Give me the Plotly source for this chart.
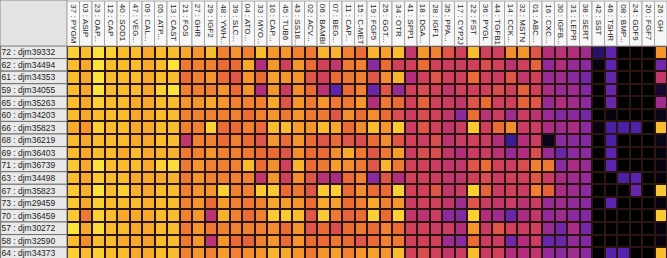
import plotly.graph_objects as go

genes = ["37 : PYGM", "03 : ASIP", "23 : OAP...", "12 : CAP", "40 : SOD1", "47 : VEG...",
         "09 : CAL...", "05 : ATP...", "13 : CAST", "21 : FOS", "27 : GHR", "29 : IGF2",
         "48 : YWH...", "39 : SLC...", "04 : ATO...", "33 : MYO...", "10 : CAP...", "45 : TUB6",
         "43 : SS18...", "02 : ACV...", "06 : BAMBI", "07 : BEG...", "11 : CAP...", "15 : C-MET",
         "19 : FGF5", "25 : GGT...", "34 : OTR", "41 : SPP1", "18 : DGA...", "28 : IGF1",
         "35 : PPA...", "17 : CYP2J", "22 : FST", "36 : PYGL", "44 : TGFB1", "14 : CCK...",
         "32 : MSTN", "01 : ABC...", "16 : CXC...", "30 : IGFB...", "31 : LEPR", "38 : SERT",
         "42 : SST", "46 : TSHR", "08 : BMP...", "24 : GDF9", "20 : FGF7", "26 : GH"]

samples = ["72 : djm39332", "62 : djm34494", "61 : djm34353", "59 : djm34055", "65 : djm35263",
           "60 : djm34203", "66 : djm35823", "68 : djm36219", "69 : djm36403", "71 : djm36739",
           "63 : djm34498", "67 : djm35823", "73 : djm29459", "70 : djm36459", "57 : djm30272",
           "58 : djm32590", "64 : djm34373"]

r72 = [9.5, 9, 10, 9.5, 9, 9, 8.5, 9, 9, 8.5, 8, 9, 7.5, 8, 7.5, 9,
       8, 8, 7.5, 7.3, 8.8, 8.8, 7.5, 7, 8.8, 8.3, 9, 5.5, 8, 7.5, 6.5, 6,
       9, 6, 6, 7.8, 8, 6.5, 5, 5.2, 5, 4.5, 1.5, 3, 0, 0, 0, 8]
r62 = [9, 8.5, 10, 9, 9, 9, 8.5, 9, 10, 7.3, 7.5, 7.5, 7, 7, 8.5, 5,
       8, 6, 8, 7, 6, 5.5, 7.3, 7.5, 4, 7, 6, 6, 7, 6, 5.8, 5.8,
       6, 6.3, 6, 5.3, 6, 6.8, 4.2, 5, 4.3, 4, 0.3, 3, 0, 0, 0, 3.5]
r61 = [9, 8.5, 10, 9, 9, 9, 8.5, 9, 9, 7, 7.5, 8, 7, 6.5, 8, 7,
       8.3, 8, 8, 6.5, 6, 7, 7.3, 7.5, 6.5, 7.8, 8.8, 5, 6, 6.5, 6, 6,
       7, 6, 5.8, 6.5, 5.5, 6, 4.3, 4.5, 4, 3.5, 0, 3.2, 0, 0, 0, 5.5]
r59 = [9, 8.5, 10, 9, 9, 9, 8.5, 9.5, 10, 7.5, 7.5, 7.5, 8, 7, 8, 5,
       8, 5.8, 7.8, 7, 5.2, 3, 7, 7.5, 3.3, 6.5, 4.3, 6, 6.3, 6, 5.5, 6,
       6, 6, 6.3, 6, 6.8, 6, 4.8, 4.3, 4.5, 3.8, 0, 3.3, 0, 0, 0, 1]
r65 = [9, 8.5, 9.5, 9, 9, 8.5, 8.5, 9, 9, 8, 8, 8.5, 8, 7.5, 7.5, 7.5,
       8.5, 6.5, 8, 7.3, 8, 7.3, 7.3, 8, 5, 7.3, 7, 6, 6.8, 6, 5.8, 5.5,
       6.5, 7, 6, 6, 6.8, 6.5, 4.3, 5, 4.5, 4, 0, 3.3, 0, 0, 0, 4.5]
r60 = [9, 8.5, 9, 9, 9, 8.5, 8.5, 9, 9, 7.5, 7.5, 7.5, 7.5, 7.5, 7, 7.5,
       8, 7.3, 8, 7.3, 7.3, 6.5, 7.8, 7, 7.8, 7, 6.3, 5.8, 6.3, 6, 5.5, 4,
       7, 5.2, 5.8, 4.5, 5.8, 5.3, 4.3, 3.8, 4, 3.5, 0, 0.3, 0, 0, 0, 0.5]
r66 = [8.5, 8, 9.5, 9, 9, 8.5, 8.5, 9, 9, 7.5, 7.5, 9.5, 7, 7, 7.5, 7,
       9, 9, 8.2, 8, 9, 8.5, 7, 7.8, 9, 8, 9.3, 5.8, 6.5, 6, 5.5, 5.8,
       9.3, 6, 7, 7.8, 5.8, 5.8, 4.8, 4.5, 4.8, 4, 0.3, 2.5, 2.5, 2.7, 0, 9]
r68 = [9, 8.5, 9, 9, 9, 8.5, 8.5, 9, 9, 5.5, 7.5, 7.5, 7, 7.5, 7, 6.5,
       8, 7, 8, 7, 6.5, 7, 6.5, 6.3, 7, 7.8, 6.5, 6, 5.8, 6.3, 5.3, 5.8,
       6, 5.8, 5, 2, 5, 5.8, 0.5, 4, 4, 3.8, 0, 2.5, 0, 0, 0, 0.5]
r69 = [9, 8.5, 9, 9, 8.5, 9, 8.5, 8.7, 8.7, 7.3, 7.5, 8, 7.5, 7.5, 7.3, 7,
       7, 6.5, 7.8, 7, 7, 7.8, 8.5, 7.3, 6.5, 7.3, 8.2, 5.8, 6.3, 6.3, 5.5, 5,
       5.8, 5.8, 5.2, 4.3, 5, 6.3, 4.3, 3.3, 4, 4, 0, 3, 0, 0, 0, 0.3]
r71 = [9.3, 8.5, 10, 9, 9, 9, 8.5, 9.5, 9.8, 7.3, 8, 7.5, 7.5, 7.5, 9, 7,
       7.8, 6, 8.8, 7, 7.3, 8.2, 7.8, 7.3, 6.5, 8.8, 7.3, 6, 6, 5.8, 5.5, 5.5,
       6.5, 7, 6, 5.8, 6.3, 7.5, 7.3, 4, 4.8, 4.3, 0, 3, 0, 0, 0, 0.3]
r63 = [9, 8.5, 9.3, 9, 9, 8.5, 8.5, 8.5, 8.7, 7.3, 8, 7.5, 7.5, 7.5, 7.5, 5.5,
       8, 6, 7.8, 6.5, 5.2, 4.8, 7, 7.5, 4, 6.5, 5, 6, 6, 5.8, 5.5, 5.5,
       6, 6.3, 5.8, 6, 6, 6.5, 5.8, 4.8, 4.5, 4.2, 0, 0, 2.5, 3, 0, 0.3]
r67 = [9.3, 8.7, 10, 9, 9.5, 8.7, 8.5, 9, 9, 7.5, 8, 8, 9.5, 7.5, 7.5, 9.3,
       9.3, 7, 7.3, 6.5, 9.3, 9.5, 7, 7.8, 7, 7, 9.5, 6, 6, 6.5, 5.5, 5.8,
       9.5, 6.8, 5.8, 6, 5.8, 7.5, 6.8, 4.8, 4.5, 4, 0, 0, 0, 3.3, 0, 9.3]
r73 = [9.3, 8.5, 9.5, 9, 9, 9, 8.7, 9, 9, 7.5, 8, 7, 8.2, 7.5, 7.3, 7.5,
       8.5, 8.2, 8, 7, 8.5, 8.3, 7, 7.5, 8.5, 7.5, 8, 5.8, 6, 6, 5.5, 4.5,
       6.5, 5.8, 5.5, 5.8, 5.3, 5.8, 4.3, 4.5, 4.2, 4, 0, 3, 0, 0, 0, 0.3]
r70 = [9.3, 7.3, 9.5, 9, 8.5, 8.5, 8.5, 9, 9, 7.5, 8, 5.3, 8.7, 7.5, 7, 7.5,
       9.3, 9.3, 9, 6.5, 9.3, 7.3, 6.8, 7, 9.5, 7, 9.5, 5.5, 5.3, 5.8, 4, 3.8,
       9.5, 5, 4.5, 3.3, 4.8, 5.5, 4.2, 4.5, 4, 3.8, 0, 0, 0, 0, 0, 9.3]
r57 = [10, 8.5, 9.8, 9, 9, 8.5, 8.5, 9, 9, 7.3, 8, 7.3, 7.5, 7.5, 7.5, 7.5,
       7.8, 7, 8, 6.5, 7, 6.3, 7, 7.3, 7, 7.5, 7, 6, 6, 5.8, 5.8, 5,
       8, 5.8, 6.5, 6, 5.8, 6, 4.3, 3.5, 4.8, 3.5, 0, 0, 0, 0, 0, 0.3]
r58 = [9, 7.8, 9, 9, 8.5, 8.5, 8.3, 9, 9, 7.3, 8, 5.3, 8, 7, 6.8, 7.5,
       8, 7, 8, 7, 7, 7.3, 7, 6.5, 7, 7.5, 7.3, 6, 6, 6, 4.5, 4,
       7, 5.8, 5.8, 3.5, 5, 5.8, 3.3, 3.3, 4.2, 3.8, 0, 0, 0, 0, 0, 0.3]
r64 = [9.5, 9, 9.5, 9, 9, 8.5, 8.5, 9, 9, 7.5, 8, 7.5, 8.2, 7.5, 7.8, 8,
       8.8, 8.5, 8, 7.3, 8, 8.3, 7.5, 8, 8.3, 8, 9, 6, 6.3, 6, 5.5, 5.8,
       9, 5.8, 6, 5, 5, 5.5, 4.2, 4, 4.5, 4, 0, 2.8, 2.8, 0, 0, 9]

z = [r72, r62, r61, r59, r65, r60, r66, r68, r69, r71, r63, r67, r73, r70, r57, r58, r64]

colorscale = [
    [0.00, "#000000"],
    [0.10, "#140830"],
    [0.20, "#3a1c9a"],
    [0.30, "#5a24b0"],
    [0.40, "#8a2aa0"],
    [0.50, "#b22e7c"],
    [0.60, "#d0405a"],
    [0.70, "#ea6c34"],
    [0.80, "#f4962c"],
    [0.90, "#f9bc2c"],
    [1.00, "#fbe33a"],
]

W, H = 667, 258
L, T = 67, 46
PW, PH = W - L, H - T
ROW_PX = 12.57
FONT = "Liberation Sans, Arial, sans-serif"

fig = go.Figure(go.Heatmap(
    z=z, x=genes, y=samples, colorscale=colorscale, zmin=0, zmax=10,
    xgap=2, ygap=2, showscale=False,
))

fig.update_layout(
    template="none",
    width=W, height=H,
    margin=dict(l=L, r=0, t=T, b=0, pad=0, autoexpand=False),
    plot_bgcolor="#2a1510", paper_bgcolor="white",
    font=dict(family=FONT, size=8.5, color="#222222"),
)
fig.update_xaxes(type="category", range=[-0.5, len(genes) - 0.5], showticklabels=False,
                 showgrid=False, zeroline=False, showline=False, ticks="", automargin=False)
fig.update_yaxes(type="category", range=[-0.5 + PH / ROW_PX, -0.5], showgrid=False,
                 zeroline=False, showline=False, ticks="outside", ticklen=9, automargin=False,
                 tickcolor="rgba(0,0,0,0)", tickfont=dict(family=FONT, size=8.5, color="#222222"))

shapes = []
# corner box
shapes.append(dict(type="rect", xref="paper", yref="paper", x0=-L / PW, x1=0, y0=1,
                   y1=1 + T / PH, fillcolor="#e4e4e4", line=dict(color="#8a8a8a", width=1),
                   layer="below"))
# row label boxes
for i, s in enumerate(samples):
    shapes.append(dict(type="rect", xref="paper", yref="y", x0=-L / PW + 0.001, x1=0,
                       y0=i - 0.5, y1=i + 0.5, fillcolor="#e9e9e9",
                       line=dict(color="#6f6f6f", width=1), layer="below"))
# column header boxes
for j, g in enumerate(genes):
    shapes.append(dict(type="rect", xref="x", yref="paper", x0=j - 0.5, x1=j + 0.5,
                       y0=1, y1=1 + (T - 1) / PH, fillcolor="#f7f7f7",
                       line=dict(color="#a8a8a8", width=1), layer="below"))
fig.update_layout(shapes=shapes)

annotations = []
for g in genes:
    annotations.append(dict(x=g, xref="x", y=1 + (T - 2) / PH, yref="paper",
                            text=g, textangle=90, showarrow=False, xanchor="center",
                            yanchor="top", font=dict(family=FONT, size=8, color="#222222")))
fig.update_layout(annotations=annotations)

fig.write_html("out.html", config={"displayModeBar": False},
               post_script="document.body.style.margin='0';document.body.style.overflow='hidden';")
